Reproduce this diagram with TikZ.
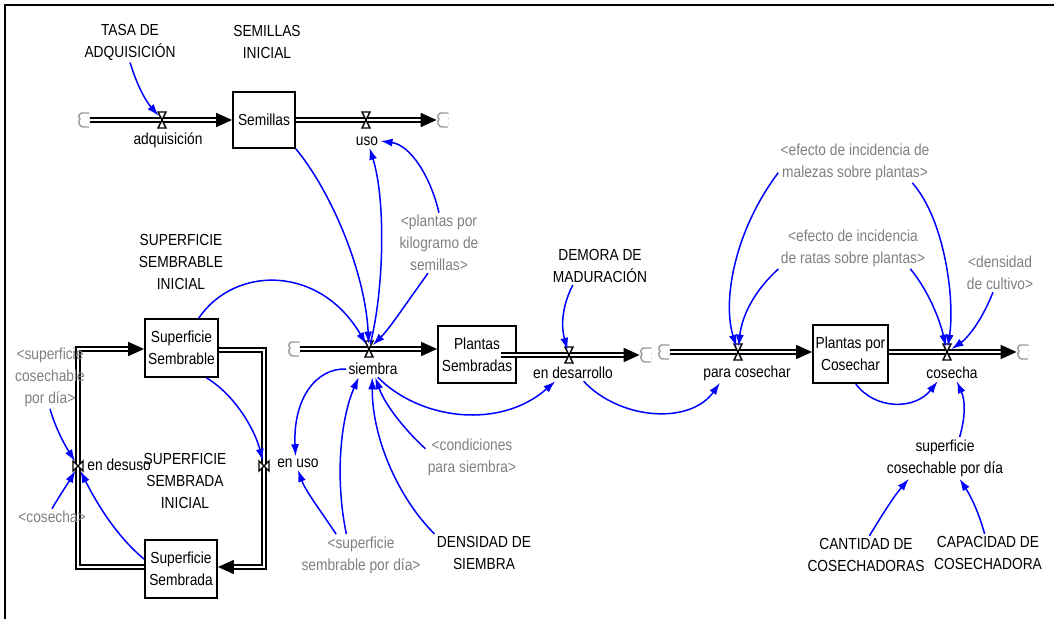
\documentclass[tikz,border=0pt]{standalone}
\usepackage{fontspec}
\setmainfont{Liberation Sans}[FakeStretch=0.86]
\usetikzlibrary{arrows.meta}
\definecolor{ghostgray}{RGB}{128,128,128}
\definecolor{linkblue}{RGB}{0,0,255}
\tikzset{
  lbl/.style={align=center,inner sep=1pt,font=\fontsize{8}{11}\selectfont},
  ghost/.style={lbl,text=ghostgray},
  stock/.style={lbl,draw,line width=0.9pt,inner sep=0pt},
  valve/.style={circle,inner sep=0pt,minimum size=5pt},
  sink/.style={inner sep=0pt,minimum width=6pt,minimum height=7pt},
  pipe/.style={double,double distance=1.3pt,line width=0.85pt,line join=miter},
  pipeend/.style={pipe,-{Triangle[length=8pt,width=7pt]}},
  link/.style={linkblue,line width=0.75pt,->},
  hourglass/.pic={\draw[fill=white,line width=0.7pt] (-4,-8) -- (4,-8) -- (-4,8) -- (4,8) -- cycle;},
  bowtie/.pic={\draw[fill=white,line width=0.7pt] (-5,-5) -- (-5,5) -- (5,-5) -- (5,5) -- cycle;},
  sinkcloud/.pic={\draw[ghostgray!80,line width=0.7pt] (5,-7) -- (0,-7) .. controls (-4,-8) and (-7,-4) .. (-4,-1) .. controls (-7,2) and (-4,8) .. (0,7) -- (5,7);
    \draw[ghostgray!50,line width=0.5pt,dotted] (5,-7) -- (5,7);}
}
\begin{document}
\begin{tikzpicture}[x=0.5pt,y=-0.5pt,>={Latex[length=6pt,width=4pt]}]
\useasboundingbox (0,0) rectangle (1054,619);
\draw [line width=0.9pt] (5,619) -- (5,5) -- (1054,5);
%% stocks
\node (node_semillas) at (264,120) [stock,minimum width=31pt,minimum height=28pt] {Semillas};
\node (node_supsble) at (181.5,348) [stock,minimum width=36.5pt,minimum height=29pt] {Superficie\\Sembrable};
\node (node_supsada) at (181,569) [stock,minimum width=36pt,minimum height=29pt] {Superficie\\Sembrada};
\node (node_plsemb) at (477,354.5) [stock,minimum width=39pt,minimum height=28.5pt] {Plantas\\Sembradas};
\node (node_plcos) at (850.5,354) [stock,minimum width=37.5pt,minimum height=29pt] {Plantas por\\Cosechar};
%% clouds and valves
\node (node_cloudA) at (84,120) [sink] {};
\node (node_cloudB) at (443,120) [sink] {};
\node (node_cloudC) at (294,349) [sink] {};
\node (node_cloudD) at (646,355) [sink] {};
\node (node_cloudE) at (664,352) [sink] {};
\node (node_cloudF) at (1023,352) [sink] {};
\node (node_adq) at (162,120) [valve] {};
\node (node_uso) at (366,120) [valve] {};
\node (node_siembra) at (369,349) [valve] {};
\node (node_desarr) at (569,355) [valve] {};
\node (node_paracos) at (738,352) [valve] {};
\node (node_cosecha) at (947,352) [valve] {};
\node (node_desuso) at (78,466) [valve] {};
\node (node_enuso) at (264,466) [valve] {};
\coordinate (c_tl) at (78,349);
\coordinate (c_tr) at (264,350);
\coordinate (c_br) at (264,567);
\coordinate (c_bl) at (78,567);
\coordinate (c_plout) at (501,355);
%% pipes
\draw [pipeend] (node_cloudA.east) -- (node_semillas.west);
\draw [pipeend] (node_semillas.east) -- (node_cloudB.west);
\draw [pipeend] (node_cloudC.east) -- (node_cloudC.east -| node_plsemb.west);
\draw [pipeend] (c_plout) -- (node_cloudD.west);
\draw [pipeend] (node_cloudE.east) -- (node_cloudE.east -| node_plcos.west);
\draw [pipeend] (node_plcos.east |- node_cosecha) -- (node_cloudF.west);
\draw [pipeend] (node_supsada.west |- c_bl) -- (c_bl) -- (c_tl) -- (node_supsble.west |- c_tl);
\draw [pipeend] (node_supsble.east |- c_tr) -- (c_tr) -- (c_br) -- (node_supsada.east |- c_br);
%
\foreach \v in {node_adq,node_uso,node_siembra,node_desarr,node_paracos,node_cosecha}
  \pic at (\v) {hourglass};
\foreach \v in {node_desuso,node_enuso}
  \pic at (\v) {bowtie};
\foreach \c in {node_cloudA,node_cloudB,node_cloudC,node_cloudD,node_cloudE,node_cloudF}
  \pic at (\c) {sinkcloud};
%% flow names
\node (node_adqlbl) at (168,140) [lbl] {adquisición};
\node (node_usolbl) at (367,141) [lbl] {uso};
\node (node_sieblbl) at (373,369) [lbl] {siembra};
\node (node_desarrlbl) at (573,373) [lbl] {en desarrollo};
\node (node_paracoslbl) at (747,373) [lbl] {para cosechar};
\node (node_coslbl) at (952,373) [lbl] {cosecha};
\node (node_desusolbl) at (85,465) [lbl,anchor=west] {en desuso};
\node (node_enusolbl) at (298,463) [lbl] {en uso};
%% constants
\node (node_tasa) at (130,42) [lbl] {TASA DE\\ADQUISICIÓN};
\node (node_semini) at (267,42) [lbl] {SEMILLAS\\INICIAL};
\node (node_supsini) at (181,262) [lbl] {SUPERFICIE\\SEMBRABLE\\INICIAL};
\node (node_supsdini) at (185,481) [lbl] {SUPERFICIE\\SEMBRADA\\INICIAL};
\node (node_demora) at (600,266) [lbl] {DEMORA DE\\MADURACIÓN};
\node (node_densidad) at (484,553) [lbl] {DENSIDAD DE\\SIEMBRA};
\node (node_supcos) at (945,458) [lbl] {superficie\\cosechable por día};
\node (node_cant) at (866,555) [lbl] {CANTIDAD DE\\COSECHADORAS};
\node (node_cap) at (988,553) [lbl] {CAPACIDAD DE\\COSECHADORA};
%% shadow variables
\node (node_plkg) at (439,243) [ghost] {<plantas por\\kilogramo de\\semillas>};
\node (node_gsupcos) at (50,377) [ghost] {<superficie\\cosechable\\por día>};
\node (node_gcos) at (52,517) [ghost] {<cosecha>};
\node (node_cond) at (472,457) [ghost] {<condiciones\\para siembra>};
\node (node_gsupsbl) at (361,555) [ghost] {<superficie\\sembrable por día>};
\node (node_malezas) at (855,162) [ghost] {<efecto de incidencia de\\malezas sobre plantas>};
\node (node_ratas) at (853,248) [ghost] {<efecto de incidencia\\de ratas sobre plantas>};
\node (node_dcult) at (1000,273) [ghost] {<densidad\\de cultivo>};
%% links
\draw [link] (node_tasa.south) ..controls (137,85) and (145,100) .. (node_adq);
\draw [link] (node_semillas.south east) ..controls (330,190) and (365,270) .. (node_siembra);
\draw [link] (node_siembra) ..controls (384,290) and (386,200) .. (node_usolbl.-70);
\draw [link] (node_plkg.north) ..controls (430,175) and (410,145) .. (node_usolbl.east);
\draw [link] (node_plkg.-110) ..controls (405,305) and (390,328) .. (node_siembra);
\draw [link] (node_supsble.60) ..controls (235,265) and (320,265) .. (node_siembra);
\draw [link] (node_sieblbl.west) ..controls (315,368) and (293,400) .. (node_enusolbl.110);
\draw [link] (node_gsupsbl.140) ..controls (320,510) and (305,490) .. (node_enusolbl.south);
\draw [link] (node_gsupsbl.125) ..controls (335,480) and (340,420) .. (node_sieblbl.-150);
\draw [link] (node_densidad.north west) ..controls (400,500) and (372,440) .. (node_sieblbl.-95);
\draw [link] (node_cond.170) ..controls (405,430) and (385,405) .. (node_sieblbl.-75);
\draw [link] (node_sieblbl.-60) ..controls (420,420) and (500,430) .. (node_desarrlbl.-155);
\draw [link] (node_demora.-145) ..controls (560,310) and (562,330) .. (node_desarr);
\draw [link] (node_desarrlbl.-38) ..controls (620,420) and (690,425) .. (node_paracoslbl.-160);
\draw [link] (node_malezas.-172) ..controls (735,230) and (722,300) .. (node_paracos);
\draw [link] (node_malezas.-20) ..controls (945,220) and (955,300) .. (node_cosecha);
\draw [link] (node_ratas.south west) ..controls (755,290) and (742,315) .. (node_paracos);
\draw [link] (node_ratas.-20) ..controls (928,290) and (940,320) .. (node_cosecha);
\draw [link] (node_dcult.-110) ..controls (980,325) and (965,340) .. (node_cosecha);
\draw [link] (node_plcos.-80) ..controls (875,410) and (915,410) .. (node_coslbl.-150);
\draw [link] (node_supcos.55) ..controls (966,415) and (965,400) .. (node_coslbl.-60);
\draw [link] (node_cant.80) ..controls (885,510) and (895,495) .. (node_supcos.-150);
\draw [link] (node_cap.100) ..controls (978,510) and (970,495) .. (node_supcos.-55);
\draw [link] (node_gsupcos.south) ..controls (56,430) and (66,447) .. (node_desuso);
\draw [link] (node_gcos.north) ..controls (60,495) and (70,480) .. (node_desuso);
\draw [link] (node_supsada.165) ..controls (115,535) and (95,500) .. (node_desuso);
\draw [link] (node_supsble.-50) ..controls (235,395) and (255,430) .. (node_enuso);
%
\end{tikzpicture}
\end{document}
